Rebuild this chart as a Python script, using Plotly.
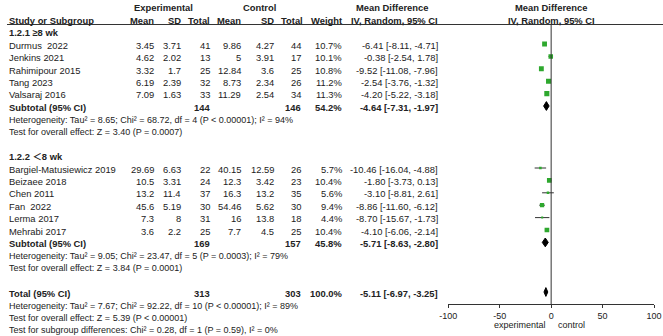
import plotly.graph_objects as go

W, H = 663, 336

# ---------------- data ----------------
g1_label = "1.2.1 ≥8 wk"
g1_studies = ["Durmus\u00a0 2022", "Jenkins 2021", "Rahimipour 2015", "Tang 2023", "Valsaraj 2016"]
g1_exp_mean = ["3.45", "4.62", "3.32", "6.19", "7.09"]
g1_exp_sd = ["3.71", "2.02", "1.7", "2.39", "1.63"]
g1_exp_n = [41, 13, 25, 32, 33]
g1_ctl_mean = ["9.86", "5", "12.84", "8.73", "11.29"]
g1_ctl_sd = ["4.27", "3.91", "3.6", "2.34", "2.54"]
g1_ctl_n = [44, 17, 25, 26, 34]
g1_weight = [10.7, 10.1, 10.8, 11.2, 11.3]
g1_md = [-6.41, -0.38, -9.52, -2.54, -4.20]
g1_lo = [-8.11, -2.54, -11.08, -3.76, -5.22]
g1_hi = [-4.71, 1.78, -7.96, -1.32, -3.18]
g1_sub = {"n_exp": 144, "n_ctl": 146, "weight": 54.2, "md": -4.64, "lo": -7.31, "hi": -1.97}
g1_het = "Heterogeneity: Tau² = 8.65; Chi² = 68.72, df = 4 (P < 0.00001); I² = 94%"
g1_test = "Test for overall effect: Z = 3.40 (P = 0.0007)"

g2_label = "1.2.2 ＜8 wk"
g2_studies = ["Bargiel-Matusiewicz 2019", "Beizaee 2018", "Chen 2011", "Fan\u00a0 2022", "Lerma 2017", "Mehrabi 2017"]
g2_exp_mean = ["29.69", "10.5", "13.2", "45.6", "7.3", "3.6"]
g2_exp_sd = ["6.63", "3.31", "11.4", "5.19", "8", "2.2"]
g2_exp_n = [22, 24, 37, 30, 31, 25]
g2_ctl_mean = ["40.15", "12.3", "16.3", "54.46", "16", "7.7"]
g2_ctl_sd = ["12.59", "3.42", "13.2", "5.62", "13.8", "4.5"]
g2_ctl_n = [26, 23, 35, 30, 18, 25]
g2_weight = [5.7, 10.4, 5.6, 9.4, 4.4, 10.4]
g2_md = [-10.46, -1.80, -3.10, -8.86, -8.70, -4.10]
g2_lo = [-16.04, -3.73, -8.81, -11.60, -15.67, -6.06]
g2_hi = [-4.88, 0.13, 2.61, -6.12, -1.73, -2.14]
g2_sub = {"n_exp": 169, "n_ctl": 157, "weight": 45.8, "md": -5.71, "lo": -8.63, "hi": -2.80}
g2_het = "Heterogeneity: Tau² = 9.05; Chi² = 23.47, df = 5 (P = 0.0003); I² = 79%"
g2_test = "Test for overall effect: Z = 3.84 (P = 0.0001)"

total = {"n_exp": 313, "n_ctl": 303, "weight": 100.0, "md": -5.11, "lo": -6.97, "hi": -3.25}
total_het = "Heterogeneity: Tau² = 7.67; Chi² = 92.22, df = 10 (P < 0.00001); I² = 89%"
total_test = "Test for overall effect: Z = 5.39 (P < 0.00001)"
subgroup_test = "Test for subgroup differences: Chi² = 0.28, df = 1 (P = 0.59), I² = 0%"

axis_ticks = [-100, -50, 0, 50, 100]
axis_left_label = "experimental"
axis_right_label = "control"

# ---------------- layout constants ----------------
FONT = "Liberation Sans, Arial, Noto Sans CJK SC, sans-serif"
TXT = "#222222"
FS = 9.4
FS_NOTE = 9.0
ROW0 = 32.8
PITCH = 12.4
COL = {"study": 7.3, "em": 155.7, "esd": 183, "en": 212.3, "cm": 243.3, "csd": 276,
       "cn": 302.7, "w": 344, "ci": 440}
AX_Y = 304.3
PX_M100, PX_P100 = 448.3, 654.0

def ry(r):
    return ROW0 + PITCH * r

annots = []

def txt(x, y, s, anchor="left", bold=False, size=FS):
    if bold:
        s = "<b>" + s + "</b>"
    annots.append(dict(x=x / W, y=(H - y) / H, xref="paper", yref="paper", text=s,
                       showarrow=False, xanchor=anchor, yanchor="middle",
                       font=dict(family=FONT, size=size, color=TXT)))

def ci_str(m, l, h):
    return f"{m:.2f} [{l:.2f}, {h:.2f}]"

# headers
txt(163, 7.8, "Experimental", "center", True)
txt(259.5, 7.8, "Control", "center", True)
txt(392, 7.8, "Mean Difference", "center", True)
txt(551, 7.8, "Mean Difference", "center", True)
hy = 20.5
txt(COL["study"], hy, "Study or Subgroup", "left", True)
txt(COL["em"], hy, "Mean", "right", True)
txt(COL["esd"], hy, "SD", "right", True)
txt(COL["en"], hy, "Total", "right", True)
txt(COL["cm"], hy, "Mean", "right", True)
txt(COL["csd"], hy, "SD", "right", True)
txt(COL["cn"] + 2, hy, "Total", "right", True)
txt(COL["w"], hy, "Weight", "right", True)
txt(COL["ci"], hy, "IV, Random, 95% CI", "right", True)
txt(551, hy, "IV, Random, 95% CI", "center", True)

traces = []
diamonds = []

def group(r0, label, studies, em, esd, en, cm, csd, cn, w, md, lo, hi, sub, het, test):
    txt(COL["study"], ry(r0), label, "left", True)
    for i, s in enumerate(studies):
        y = ry(r0 + 1 + i)
        txt(COL["study"], y, s)
        txt(COL["em"], y, em[i], "right")
        txt(COL["esd"], y, esd[i], "right")
        txt(COL["en"], y, str(en[i]), "right")
        txt(COL["cm"], y, cm[i], "right")
        txt(COL["csd"], y, csd[i], "right")
        txt(COL["cn"], y, str(cn[i]), "right")
        txt(COL["w"], y, f"{w[i]:.1f}%", "right")
        txt(COL["ci"], y, ci_str(md[i], lo[i], hi[i]), "right")
        traces.append(go.Scatter(x=[lo[i], hi[i]], y=[y - 1.2, y - 1.2], mode="lines",
                                 line=dict(color="#333333", width=1), hoverinfo="skip"))
        traces.append(go.Scatter(x=[md[i]], y=[y - 1.2], mode="markers",
                                 marker=dict(symbol="square", size=max(2.0, w[i] * 0.45),
                                             color="#2ea82e", line=dict(width=0)),
                                 hoverinfo="skip"))
    rs = r0 + 1 + len(studies)
    y = ry(rs)
    txt(COL["study"], y, "Subtotal (95% CI)", "left", True)
    txt(COL["en"], y, str(sub["n_exp"]), "right", True)
    txt(COL["cn"], y, str(sub["n_ctl"]), "right", True)
    txt(COL["w"], y, f"{sub['weight']:.1f}%", "right", True)
    txt(COL["ci"], y, ci_str(sub["md"], sub["lo"], sub["hi"]), "right", True)
    diamonds.append((sub, y - 1.2))
    txt(COL["study"], ry(rs + 1), het, size=FS_NOTE)
    txt(COL["study"], ry(rs + 2), test, size=FS_NOTE)
    return rs + 4

r = group(0, g1_label, g1_studies, g1_exp_mean, g1_exp_sd, g1_exp_n, g1_ctl_mean, g1_ctl_sd,
          g1_ctl_n, g1_weight, g1_md, g1_lo, g1_hi, g1_sub, g1_het, g1_test)
r = group(r, g2_label, g2_studies, g2_exp_mean, g2_exp_sd, g2_exp_n, g2_ctl_mean, g2_ctl_sd,
          g2_ctl_n, g2_weight, g2_md, g2_lo, g2_hi, g2_sub, g2_het, g2_test)

y = ry(r)
txt(COL["study"], y, "Total (95% CI)", "left", True)
txt(COL["en"], y, str(total["n_exp"]), "right", True)
txt(COL["cn"], y, str(total["n_ctl"]), "right", True)
txt(COL["w"], y, f"{total['weight']:.1f}%", "right", True)
txt(COL["ci"], y, ci_str(total["md"], total["lo"], total["hi"]), "right", True)
diamonds.append((total, y - 1.2))
txt(COL["study"], ry(r + 1), total_het, size=FS_NOTE)
txt(COL["study"], ry(r + 2), total_test, size=FS_NOTE)
txt(COL["study"], ry(r + 3), subgroup_test, size=FS_NOTE)

for d, yy in diamonds:
    traces.append(go.Scatter(x=[d["lo"], d["md"], d["hi"], d["md"], d["lo"]],
                             y=[yy, yy - 4.4, yy, yy + 4.4, yy], mode="lines", fill="toself",
                             fillcolor="black", line=dict(color="black", width=1),
                             hoverinfo="skip"))

# zero line
traces.append(go.Scatter(x=[0, 0], y=[24.5, AX_Y], mode="lines",
                         line=dict(color="#333333", width=1), hoverinfo="skip"))

# axis sub-labels
txt(548, 325, axis_left_label, "right", size=FS_NOTE)
txt(555.5, 325, axis_right_label, "left", size=FS_NOTE)

fig = go.Figure(traces)
fig.update_layout(
    template="none",
    width=W, height=H, margin=dict(l=0, r=0, t=0, b=0, pad=0),
    paper_bgcolor="white", plot_bgcolor="rgba(0,0,0,0)", showlegend=False,
    annotations=annots,
    shapes=[dict(type="line", xref="paper", yref="paper", x0=7 / W, x1=1,
                 y0=(H - 24.5) / H, y1=(H - 24.5) / H,
                 line=dict(color="#333333", width=1))],
    xaxis=dict(domain=[PX_M100 / W, PX_P100 / W], range=[-100, 100], anchor="y",
               automargin=False, showline=True, linecolor="#333333", linewidth=1,
               ticks="outside", ticklen=3, tickcolor="#333333", tickvals=axis_ticks,
               ticktext=[str(t) for t in axis_ticks], showgrid=False, zeroline=False,
               tickfont=dict(family=FONT, size=FS_NOTE, color=TXT)),
    yaxis=dict(domain=[(H - AX_Y) / H, 1], range=[AX_Y, 0], visible=False, automargin=False,
               showgrid=False, zeroline=False),
)
fig.write_html("out.html", config={"displayModeBar": False},
               post_script="document.body.style.margin='0px';document.body.style.overflow='hidden';")
